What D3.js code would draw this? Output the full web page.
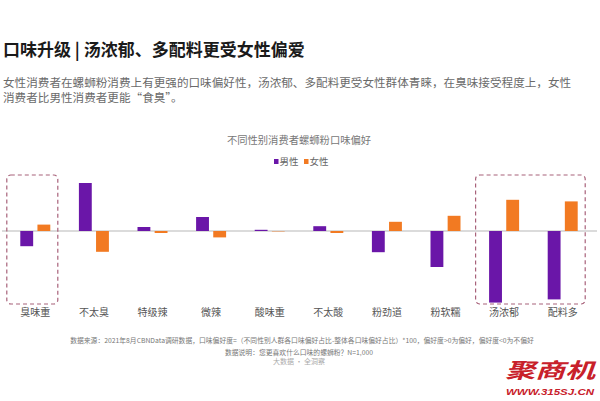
<!DOCTYPE html>
<html><head><meta charset="utf-8">
<script src="https://cdn.jsdelivr.net/npm/d3@7"></script>
<style>html,body{margin:0;padding:0;background:#fff}svg{display:block}</style>
</head><body>
<svg id="c" width="600" height="401"></svg>
<script>
const categories = ["臭味重","不太臭","特级辣","微辣","酸味重","不太酸","粉劲道","粉软糯","汤浓郁","配料多"];
const series = ["男性","女性"];
const maleValues   = [-3.8, 12.0, 1.0, 3.5, 0.3, 1.2, -5.3, -9.0, -17.9, -17.1];
const femaleValues = [ 1.6, -5.2, -0.5, -1.6, -0.1, -0.5, 2.3, 3.8, 7.8, 7.4];
const highlightGroups = [["臭味重"],["汤浓郁","配料多"]];
const colors = {"男性":"#6a16a8","女性":"#f27a22"};

const title = "口味升级 | 汤浓郁、多配料更受女性偏爱";
const subtitleLines = ["女性消费者在螺蛳粉消费上有更强的口味偏好性，汤浓郁、多配料更受女性群体青睐，在臭味接受程度上，女性","消费者比男性消费者更能“食臭”。"];
const chartTitle = "不同性别消费者螺蛳粉口味偏好";
const footLines = ["数据来源：2021年8月CBNData调研数据，口味偏好度=（不同性别人群各口味偏好占比-整体各口味偏好占比）*100，偏好度>0为偏好，偏好度<0为不偏好","数据说明：您更喜欢什么口味的螺蛳粉？N=1,000"];
const tagline = "大数据 · 全洞察";

const svg = d3.select("#c");
const font = "'Noto Sans CJK SC','Noto Sans',sans-serif";

svg.append("text").attr("x",3).attr("y",56).attr("font-family",font).attr("font-size",17).attr("font-weight",700).attr("fill","#1a1a1a").text(title);
subtitleLines.forEach((t,i)=>{
  svg.append("text").attr("x",3).attr("y",87+i*14.5).attr("font-family",font).attr("font-size",11.6).attr("fill","#6a6a6a").text(t);
});
svg.append("text").attr("x",299).attr("y",144).attr("text-anchor","middle").attr("font-family",font).attr("font-size",10.3).attr("fill","#777").text(chartTitle);

// legend
const leg = svg.append("g").attr("font-family",font).attr("font-size",9.5);
const legX = [274, 304];
series.forEach((s,i)=>{
  leg.append("rect").attr("x",legX[i]).attr("y",159).attr("width",4.5).attr("height",5).attr("fill",colors[s]);
  leg.append("text").attr("x",legX[i]+5.5).attr("y",165).attr("fill","#666").text(s);
});

const x0 = d3.scaleBand().domain(categories).range([6,592]).paddingInner(0.488).paddingOuter(0.244);
const x1 = d3.scaleBand().domain(series).range([0,x0.bandwidth()]).paddingInner(0.25);
const y = d3.scaleLinear().domain([-20,15]).range([311,171]);

const data = categories.map((c,i)=>({cat:c, vals:[{s:"男性",v:maleValues[i]},{s:"女性",v:femaleValues[i]}]}));

// baseline
svg.append("line").attr("x1",2).attr("x2",597).attr("y1",y(0)).attr("y2",y(0)).attr("stroke","#cfcfcf").attr("stroke-width",1.5);

const g = svg.append("g");
g.selectAll("g").data(data).join("g").attr("transform",d=>`translate(${x0(d.cat)},0)`)
 .selectAll("rect").data(d=>d.vals).join("rect")
 .attr("x",d=>x1(d.s)).attr("width",x1.bandwidth())
 .attr("y",d=>y(Math.max(0,d.v))).attr("height",d=>Math.abs(y(d.v)-y(0)))
 .attr("fill",d=>colors[d.s]);

// highlight boxes
highlightGroups.forEach(grp=>{
  const xs = x0(grp[0]) - 13.5;
  const xe = x0(grp[grp.length-1]) + x0.bandwidth() + 7.5;
  svg.append("rect").attr("x",xs).attr("y",y(0)-56).attr("width",xe-xs).attr("height",129)
    .attr("rx",4).attr("fill","none").attr("stroke","#a8627a").attr("stroke-width",1.2).attr("stroke-dasharray","4,3");
});

// category labels
svg.append("g").selectAll("text").data(categories).join("text")
  .attr("x",d=>x0(d)+x0.bandwidth()/2).attr("y",316).attr("text-anchor","middle")
  .attr("font-family",font).attr("font-size",10).attr("fill","#555").text(d=>d);

footLines.forEach((t,i)=>{
  svg.append("text").attr("x",i===0?302:299).attr("y",[343,355][i]).attr("text-anchor","middle")
    .attr("font-family",font).attr("font-size",6.8).attr("fill","#777").text(t);
});
svg.append("text").attr("x",299).attr("y",363.5).attr("text-anchor","middle").attr("font-family",font).attr("font-size",7).attr("fill","#aaa").text(tagline);

// corner watermark
svg.append("text").attr("x",505).attr("y",378).attr("textLength",90).attr("lengthAdjust","spacingAndGlyphs")
  .attr("font-family",font).attr("font-size",21).attr("font-weight",700).attr("font-style","italic").attr("fill","#c8202a").text("聚商机");
svg.append("text").attr("x",506).attr("y",395).attr("textLength",88).attr("lengthAdjust","spacingAndGlyphs")
  .attr("font-family","'Liberation Sans',Arial,sans-serif").attr("font-size",9).attr("font-weight",700).attr("font-style","italic").attr("fill","#c8202a").text("WWW.315SJ.CN");
</script>
</body></html>
